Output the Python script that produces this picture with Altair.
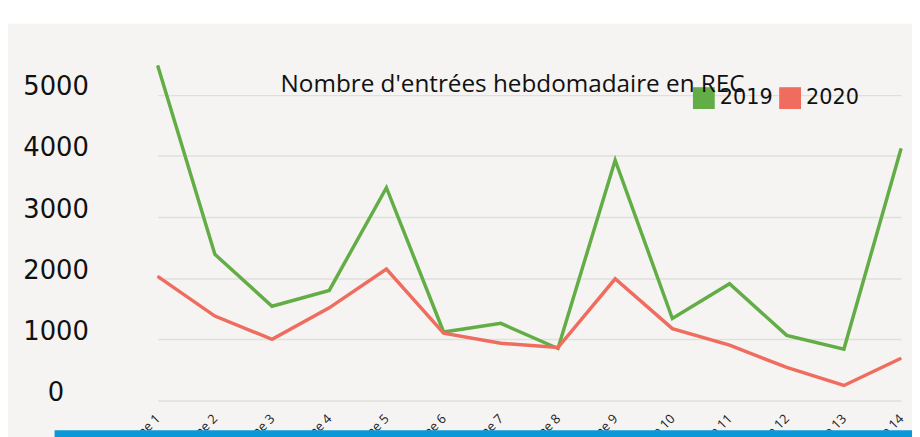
import altair as alt
import pandas as pd

weeks = ["Semaine 1", "Semaine 2", "Semaine 3", "Semaine 4", "Semaine 5",
         "Semaine 6", "Semaine 7", "Semaine 8", "Semaine 9", "Semaine 10",
         "Semaine 11", "Semaine 12", "Semaine 13", "Semaine 14"]
values_2019 = [5480, 2390, 1540, 1800, 3480, 1120, 1260, 850, 3930, 1340, 1910, 1065, 840, 4120]
values_2020 = [2030, 1380, 1000, 1515, 2150, 1100, 935, 865, 1990, 1175, 905, 540, 245, 690]
years = ["2019", "2020"]
y_ticks = [0, 1000, 2000, 3000, 4000, 5000]
title_text = "Nombre d'entrées hebdomadaire en REC"

rows = []
for w, v in zip(weeks, values_2019):
    rows.append({"semaine": w, "entrees": v, "annee": "2019"})
for w, v in zip(weeks, values_2020):
    rows.append({"semaine": w, "entrees": v, "annee": "2020"})
df = pd.DataFrame(rows)

W = 790
H = 370
BG = "#f5f4f2"
palette = ["#63ad46", "#ef6c5f"]

x_enc = alt.X("semaine:N", sort=weeks,
              scale=alt.Scale(range=[29, 779], padding=0),
              axis=alt.Axis(title=None, labelAngle=-45, labelAlign="right",
                            labelBaseline="middle", labelPadding=16,
                            labelFontSize=13, labelFont="Open Sans",
                            labelColor="#222222", ticks=False, domain=False,
                            grid=False))
y_enc = alt.Y("entrees:Q", scale=alt.Scale(domain=[0, 6000]),
              axis=alt.Axis(title=None, values=y_ticks, format="d", grid=True,
                            gridColor="#e0dfdc", gridWidth=1.5, ticks=False,
                            domain=False, labelAlign="center", labelPadding=74,
                            labelBaseline="alphabetic",
                            labelFont="DejaVu Sans", labelFontSize=26,
                            labelColor="#111111"))

legend_keys = alt.Chart(df).mark_square(size=1, opacity=1, filled=True).encode(
    x=x_enc, y=y_enc,
    fill=alt.Fill("annee:N", scale=alt.Scale(domain=years, range=palette),
                  legend=alt.Legend(title=None, orient="none", legendX=569,
                                    legendY=54, direction="horizontal",
                                    symbolType="square", symbolSize=484,
                                    symbolOpacity=1, symbolStrokeWidth=0,
                                    labelOffset=5, columnPadding=6, padding=0,
                                    labelFont="DejaVu Sans", labelFontSize=21,
                                    labelColor="#111111")),
)

lines = alt.Chart(df).mark_line(strokeWidth=3.5).encode(
    x=x_enc, y=y_enc,
    color=alt.Color("annee:N", scale=alt.Scale(domain=years, range=palette),
                    legend=None),
)

top_band = alt.Chart(alt.Data(values=[{}])).mark_rect(color="white").encode(
    x=alt.value(-130), x2=alt.value(W), y=alt.value(-40), y2=alt.value(-10)
)
blue_bar = alt.Chart(alt.Data(values=[{}])).mark_rect(color="#0a98d8").encode(
    x=alt.value(-75), x2=alt.value(W), y=alt.value(400), y2=alt.value(410)
)

chart = alt.layer(top_band, legend_keys, lines, blue_bar).properties(
    width=W, height=H,
    autosize=alt.AutoSizeParams(type="none"),
    padding={"left": 122, "top": 24, "right": 0, "bottom": 35},
    background=BG,
    title=alt.TitleParams(title_text, anchor="start", dx=283, dy=108,
                          fontSize=24.5, font="Open Sans", fontWeight="normal",
                          color="#111111"),
).configure_view(stroke=None)

chart.save("out.html", embed_options={"renderer": "svg", "actions": False})
